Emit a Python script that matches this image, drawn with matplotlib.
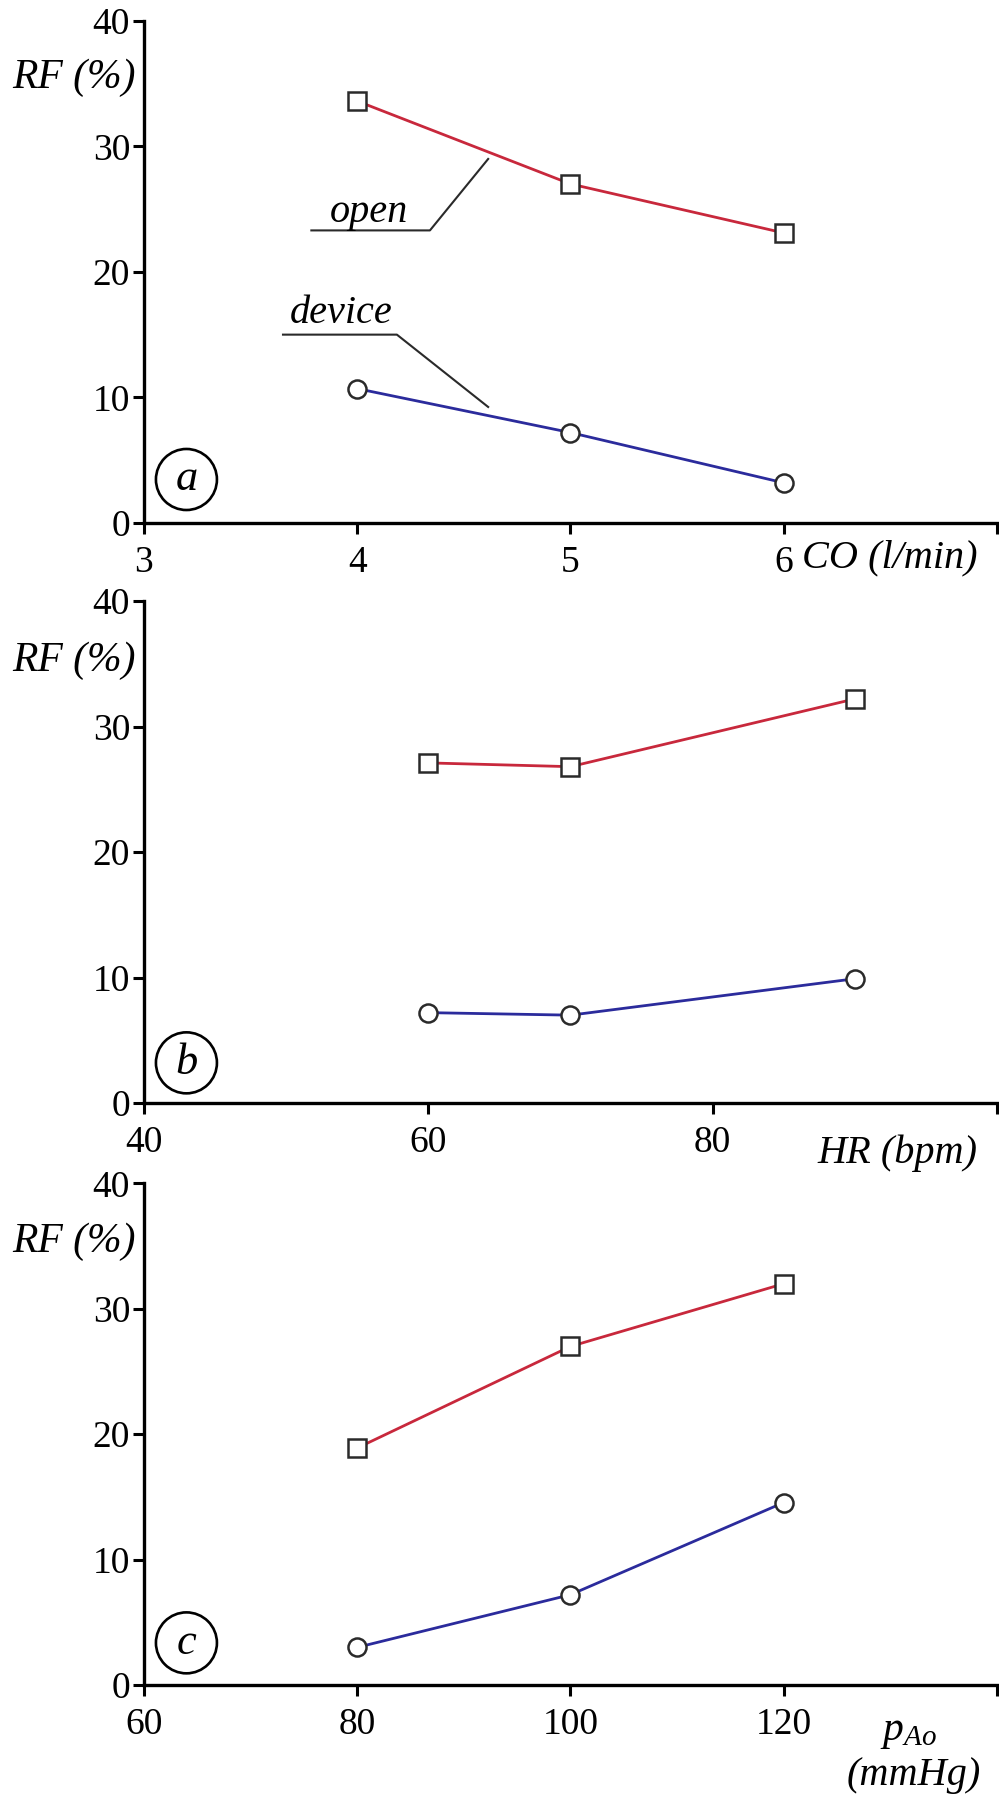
import matplotlib.pyplot as plt
from matplotlib.patches import Ellipse

plt.rcParams['font.family'] = ['Liberation Serif', 'DejaVu Serif']
plt.rcParams['mathtext.fontset'] = 'custom'
plt.rcParams['mathtext.it'] = 'Liberation Serif:italic'
plt.rcParams['mathtext.rm'] = 'Liberation Serif'

# data
co = [4, 5, 6]
co_open = [33.6, 27.0, 23.1]
co_device = [10.7, 7.2, 3.2]

hr = [60, 70, 90]
hr_open = [27.1, 26.8, 32.2]
hr_device = [7.2, 7.0, 9.9]

pao = [80, 100, 120]
pao_open = [18.9, 27.0, 32.0]
pao_device = [3.0, 7.2, 14.55]

yticks = [0, 10, 20, 30, 40]
co_ticks = [3, 4, 5, 6, 7]
hr_ticks = [40, 60, 80, 100]
pao_ticks = [60, 80, 100, 120, 140]

red = '#c8283c'
blue = '#2b2b9c'
edge = '#2a2a2a'

fig = plt.figure(figsize=(9.99, 18.03), dpi=100)

panels = [
    ([0.1441, 0.70993, 0.8539, 0.27859], co, co_open, co_device, co_ticks, 'a', 0.0866),
    ([0.1441, 0.38824, 0.8539, 0.27842], hr, hr_open, hr_device, hr_ticks, 'b', 0.080),
    ([0.1441, 0.06545, 0.8539, 0.27820], pao, pao_open, pao_device, pao_ticks, 'c', 0.084),
]

axes = []
for pos, x, y_open, y_dev, xt, letter, cy in panels:
    ax = fig.add_axes(pos)
    ax.plot(x, y_open, color=red, lw=2.0, marker='s', ms=13, mfc='white',
            mec=edge, mew=1.8, zorder=3)
    ax.plot(x, y_dev, color=blue, lw=2.0, marker='o', ms=13, mfc='white',
            mec=edge, mew=1.8, zorder=3)
    ax.set_xlim(xt[0], xt[-1])
    ax.set_ylim(0, 40)
    ax.set_yticks(yticks)
    ax.set_xticks(xt)
    ax.set_xticklabels([str(t) for t in xt[:-1]] + [''])
    for s in ['top', 'right']:
        ax.spines[s].set_visible(False)
    for s in ['left', 'bottom']:
        ax.spines[s].set_linewidth(2.4)
    ax.tick_params(direction='out', length=8, width=2.2, labelsize=27)
    ax.tick_params(axis='x', pad=8)
    ax.tick_params(axis='y', pad=2)
    ax.text(-0.1547, cy + 0.78, 'RF (%)', transform=ax.transAxes, fontsize=30,
            style='italic', ha='left', va='baseline')
    ax.add_patch(Ellipse((0.0498, cy), 61 / 853, 61 / 502, transform=ax.transAxes,
                         fill=False, lw=1.9, ec='black', clip_on=False))
    ax.text(0.0498, cy, letter, transform=ax.transAxes, fontsize=32, style='italic',
            ha='center', va='center')
    axes.append(ax)

ax_a, ax_b, ax_c = axes

# axis labels
ax_a.text(0.771, -0.0876, 'CO (l/min)', transform=ax_a.transAxes, fontsize=29,
          style='italic', ha='left', va='baseline')
ax_b.text(0.790, -0.1195, 'HR (bpm)', transform=ax_b.transAxes, fontsize=29,
          style='italic', ha='left', va='baseline')
ax_c.text(0.8628, -0.1097, r'$p_{Ao}$', transform=ax_c.transAxes, fontsize=30,
          ha='left', va='baseline')
ax_c.text(0.824, -0.1994, '(mmHg)', transform=ax_c.transAxes, fontsize=29,
          style='italic', ha='left', va='baseline')

# leader lines for the series names in panel a
ax_a.plot([3.785, 4.341, 4.614], [23.3, 23.3, 28.99], color=edge, lw=1.5)
ax_a.plot([3.652, 4.186, 4.614], [15.0, 15.0, 9.24], color=edge, lw=1.5)
ax_a.text(4.057, 24.0, 'open', fontsize=29, style='italic', ha='center', va='baseline')
ax_a.text(3.924, 15.9, 'device', fontsize=29, style='italic', ha='center', va='baseline')

fig.savefig('out.png', dpi=100)
